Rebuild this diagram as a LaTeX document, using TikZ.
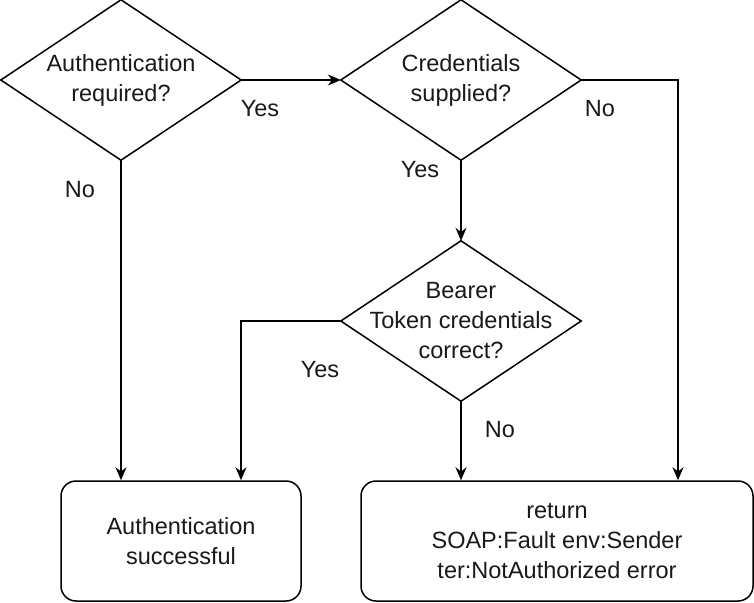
\documentclass[tikz,border=0pt]{standalone}
\usepackage{fontspec}
\setmainfont{Liberation Sans}
\usetikzlibrary{arrows.meta,calc}
\tikzset{
  every node/.style={font=\fontsize{23.5}{30}\selectfont, text=black!90},
  diabox/.style={rectangle, minimum width=240pt, minimum height=160pt, inner sep=0pt, align=center},
  roundbox/.style={draw, rounded corners=15pt, line width=1.5pt, minimum height=120pt, inner sep=0pt, align=center},
  conn/.style={line width=1.5pt, -{Stealth[length=13pt,width=11pt]}},
  lbl/.style={inner sep=1pt}
}
\begin{document}
\begin{tikzpicture}[x=1pt,y=-1pt]
\useasboundingbox (0,0) rectangle (754,602);
% diamonds
\node[diabox] (d1) at (121,80) {Authentication\\required?};
\node[diabox] (d2) at (461,80) {Credentials\\supplied?};
\node[diabox] (d3) at (461,321) {Bearer\\Token credentials\\correct?};
\foreach \d in {d1,d2,d3}{
  \draw[line width=1.5pt, line join=miter] (\d.north) -- (\d.east) -- (\d.south) -- (\d.west) -- cycle;
}
% boxes
\node[roundbox, minimum width=240pt] (b1) at (181,541) {Authentication\\successful};
\node[roundbox, minimum width=392pt] (b2) at (557,541) {return\\SOAP:Fault env:Sender\\ter:NotAuthorized error};
% connectors
\draw[conn] (d1.east) -- (d2.west);
\draw[conn] (d1.south) -- (d1.south |- b1.north);
\draw[conn] (d2.south) -- (d3.north);
\draw[conn] (d2.east) -| ([xshift=121pt]b2.north);
\draw[conn] (d3.west) -| ([xshift=60pt]b1.north);
\draw[conn] (d3.south) -- (d3.south |- b2.north);
% labels
\node[lbl] (l1) at (260,109) {Yes};
\node[lbl] (l2) at (80,190) {No};
\node[lbl] (l3) at (420,170) {Yes};
\node[lbl] (l4) at (600,109) {No};
\node[lbl] (l5) at (320,370) {Yes};
\node[lbl] (l6) at (500,430) {No};
\end{tikzpicture}
\end{document}
